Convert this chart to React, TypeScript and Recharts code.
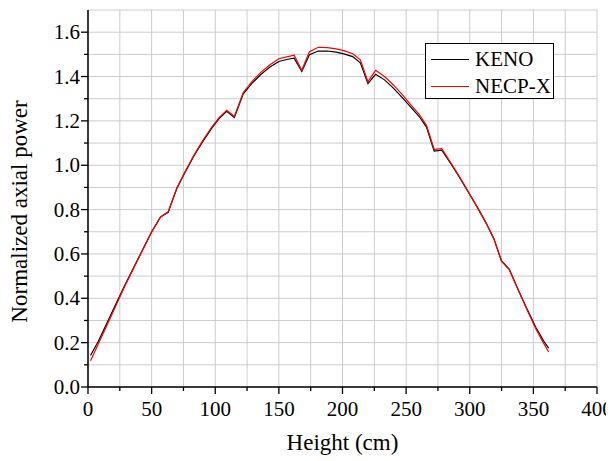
import React from "react";
import { LineChart, Line, XAxis, YAxis, CartesianGrid, Legend } from "recharts";

// axial mesh heights (cm) and normalized power
const heights = [
  2, 8, 15, 22, 29, 36, 43, 50, 57, 63, 70, 76, 83, 90, 97, 103, 109, 115, 122, 129,
  136, 143, 150, 157, 162, 168, 174, 181, 188, 195, 201, 208, 214, 220, 226, 233, 240,
  247, 254, 260, 266, 272, 278, 285, 292, 299, 306, 313, 319, 325, 331, 338, 345, 352,
  358, 362,
];
const keno = [
  0.142, 0.205, 0.29, 0.375, 0.46, 0.54, 0.62, 0.7, 0.767, 0.788, 0.898, 0.965, 1.04,
  1.105, 1.165, 1.21, 1.243, 1.215, 1.322, 1.37, 1.41, 1.443, 1.468, 1.478, 1.483,
  1.423, 1.498, 1.515, 1.515, 1.51, 1.502, 1.49, 1.462, 1.368, 1.41, 1.385, 1.348,
  1.305, 1.26, 1.222, 1.172, 1.064, 1.068, 1.008, 0.945, 0.877, 0.81, 0.738, 0.668,
  0.568, 0.532, 0.44, 0.352, 0.268, 0.208, 0.175,
];
const necpx = [
  0.118, 0.193, 0.28, 0.368, 0.455, 0.537, 0.618, 0.698, 0.767, 0.79, 0.9, 0.968,
  1.043, 1.11, 1.17, 1.215, 1.248, 1.22, 1.328, 1.378, 1.42, 1.453, 1.48, 1.49, 1.496,
  1.428, 1.512, 1.532, 1.53, 1.525, 1.517, 1.503, 1.475, 1.377, 1.428, 1.4, 1.362,
  1.318, 1.27, 1.232, 1.18, 1.072, 1.075, 1.012, 0.948, 0.879, 0.81, 0.737, 0.667,
  0.566, 0.53, 0.438, 0.348, 0.262, 0.198, 0.158,
];

const xTicks = [0, 25, 50, 75, 100, 125, 150, 175, 200, 225, 250, 275, 300, 325, 350, 375, 400];
const yTicks = [0, 0.1, 0.2, 0.3, 0.4, 0.5, 0.6, 0.7, 0.8, 0.9, 1.0, 1.1, 1.2, 1.3, 1.4, 1.5, 1.6];
const topTicks = [0, 40, 80, 120, 160, 200, 240, 280, 320, 360, 400];
const rightTicks = [0, 0.17, 0.34, 0.51, 0.68, 0.85, 1.02, 1.19, 1.36, 1.53, 1.7];

const data = heights.map((h, i) => ({ h, keno: keno[i], necpx: necpx[i] }));

const FONT = "'Liberation Serif', 'Times New Roman', serif";

function XTick(props: any) {
  const { x, y, payload } = props;
  const major = payload.value % 50 === 0;
  return (
    <g>
      <line x1={x} x2={x} y1={y} y2={y + (major ? 7 : 4)} stroke="#000" strokeWidth={1.3} />
      {major && (
        <text x={x} y={y + 29} textAnchor="middle" style={{ fontFamily: FONT }} fontSize={21} fill="#000">
          {payload.value}
        </text>
      )}
    </g>
  );
}

function YTick(props: any) {
  const { x, y, payload } = props;
  const major = Math.round(payload.value * 10) % 2 === 0;
  return (
    <g>
      <line x1={x - (major ? 7 : 4)} x2={x} y1={y} y2={y} stroke="#000" strokeWidth={1.3} />
      {major && (
        <text x={x - 8} y={y + 7} textAnchor="end" style={{ fontFamily: FONT }} fontSize={21} fill="#000">
          {payload.value.toFixed(1)}
        </text>
      )}
    </g>
  );
}

function LegendBox(props: any) {
  const items = props.payload || [];
  return (
    <div
      style={{
        border: "1px solid #000",
        background: "#fff",
        fontFamily: FONT,
        fontSize: 21,
        padding: "2px 0 0 5px",
        boxSizing: "border-box",
        height: 56,
      }}
    >
      {items.map((it: any) => (
        <div key={it.value} style={{ display: "flex", alignItems: "center", height: 27, whiteSpace: "nowrap" }}>
          <span style={{ display: "inline-block", width: 38, height: 0, borderTop: `1px solid ${it.color}`, marginRight: 6 }} />
          <span style={{ color: "#000" }}>{it.value}</span>
        </div>
      ))}
    </div>
  );
}

export default function App() {
  return (
    <LineChart width={606} height={450} data={data} margin={{ top: 2, right: 17, bottom: 0, left: 0 }}>
      <CartesianGrid stroke="#cccccc" strokeWidth={1} />
      <XAxis
        dataKey="h"
        type="number"
        domain={[0, 400]}
        ticks={xTicks}
        interval={0}
        tickSize={0}
        tickMargin={0}
        tickLine={false}
        tick={<XTick />}
        height={71}
        axisLine={{ stroke: "#000", strokeWidth: 1.5 }}
        label={{ value: "Height (cm)", position: "insideBottom", offset: 8, style: { fontFamily: FONT }, fontSize: 23, fill: "#000" }}
      />
      <XAxis
        xAxisId="top"
        orientation="top"
        type="number"
        domain={[0, 400]}
        ticks={topTicks}
        interval={0}
        tick={false}
        mirror
        tickSize={4}
        height={0}
        tickLine={{ stroke: "#000", strokeWidth: 1.3 }}
        axisLine={{ stroke: "#000", strokeWidth: 1.5 }}
      />
      <YAxis
        type="number"
        domain={[0, 1.7]}
        ticks={yTicks}
        interval={0}
        tickSize={0}
        tickMargin={0}
        tickLine={false}
        tick={<YTick />}
        width={80}
        axisLine={{ stroke: "#000", strokeWidth: 1.5 }}
        label={{ value: "Normalized axial power", angle: -90, position: "center", dx: -29, dy: 13, style: { fontFamily: FONT }, fontSize: 23, fill: "#000" }}
      />
      <YAxis
        yAxisId="right"
        orientation="right"
        type="number"
        domain={[0, 1.7]}
        ticks={rightTicks}
        interval={0}
        tick={false}
        mirror
        tickSize={4}
        width={0}
        tickLine={{ stroke: "#000", strokeWidth: 1.3 }}
        axisLine={{ stroke: "#000", strokeWidth: 1.5 }}
      />
      <Legend
        layout="vertical"
        align="center"
        verticalAlign="middle"
        content={<LegendBox />}
        wrapperStyle={{ position: "absolute", left: 417, top: 35, width: 129 }}
      />
      <Line type="linear" dataKey="keno" name="KENO" stroke="#000000" strokeWidth={1.2} dot={false} isAnimationActive={false} />
      <Line type="linear" dataKey="necpx" name="NECP-X" stroke="#ff0000" strokeWidth={1.2} dot={false} isAnimationActive={false} />
    </LineChart>
  );
}
